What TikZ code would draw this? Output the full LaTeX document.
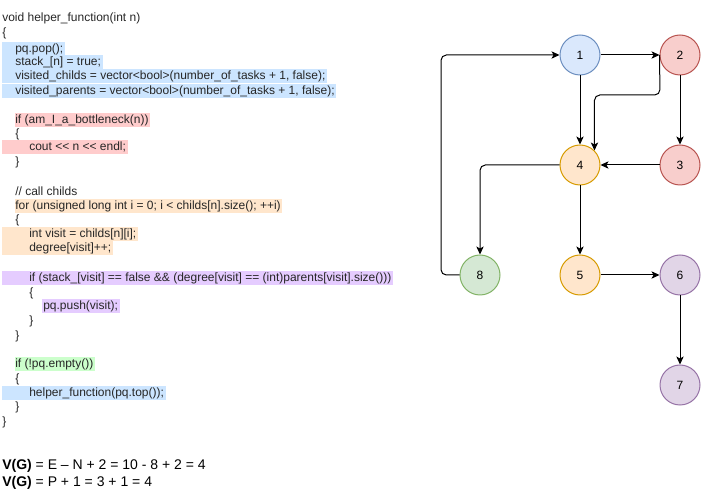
\documentclass[tikz,border=0pt]{standalone}
\usepackage{fontspec}
\setmainfont{Liberation Sans}
\usetikzlibrary{arrows.meta,backgrounds}
\definecolor{hblue}{HTML}{CCE5FF}
\definecolor{hred}{HTML}{FFCCCC}
\definecolor{horange}{HTML}{FFE6CC}
\definecolor{hpurple}{HTML}{E5CCFF}
\definecolor{hgreen}{HTML}{CCFFCC}
\definecolor{nbluef}{HTML}{DAE8FC}\definecolor{nblued}{HTML}{6C8EBF}
\definecolor{nredf}{HTML}{F8CECC}\definecolor{nredd}{HTML}{B85450}
\definecolor{norangef}{HTML}{FFE6CC}\definecolor{noranged}{HTML}{D79B00}
\definecolor{npurplef}{HTML}{E1D5E7}\definecolor{npurpled}{HTML}{9673A6}
\definecolor{ngreenf}{HTML}{D5E8D4}\definecolor{ngreend}{HTML}{82B366}
\tikzset{
  code/.style={anchor=mid west,inner sep=0pt,font=\fontsize{9pt}{10pt}\selectfont,text=black!85},
  vg/.style={anchor=mid west,inner sep=0pt,font=\fontsize{10.5pt}{12pt}\selectfont},
  gnode/.style={circle,draw,line width=0.75pt,minimum size=30pt,inner sep=0pt,font=\fontsize{9pt}{10pt}\selectfont},
  bluen/.style={gnode,fill=nbluef,draw=nblued},
  redn/.style={gnode,fill=nredf,draw=nredd},
  orangen/.style={gnode,fill=norangef,draw=noranged},
  purplen/.style={gnode,fill=npurplef,draw=npurpled},
  greenn/.style={gnode,fill=ngreenf,draw=ngreend},
  arr/.style={line width=0.75pt,-{Stealth[length=6pt,width=5.5pt,inset=1.5pt]},rounded corners=4pt},
}
\begin{document}
\begin{tikzpicture}[x=0.75pt,y=-0.75pt]
\useasboundingbox (0,0) rectangle (701,502);
% code text
\node[code] (c1) at (2,18) {void helper\_function(int n)};
\node[code] (c2) at (2,33) {\{};
\node[code] (c3) at (15,49) {pq.pop();};
\node[code] (c4) at (15,62) {stack\_[n] = true;};
\node[code] (c5) at (15,76) {visited\_childs = vector<bool>(number\_of\_tasks + 1, false);};
\node[code] (c6) at (15,91) {visited\_parents = vector<bool>(number\_of\_tasks + 1, false);};
\node[code] (c7) at (15,120) {if (am\_I\_a\_bottleneck(n))};
\node[code] (c8) at (15,134) {\{};
\node[code] (c9) at (29,147) {cout <{}< n <{}< endl;};
\node[code] (c10) at (15,162) {\}};
\node[code] (c11) at (15,192) {// call childs};
\node[code] (c12) at (15,206) {for (unsigned long int i = 0; i < childs[n].size(); ++i)};
\node[code] (c13) at (15,220) {\{};
\node[code] (c14) at (29,234) {int visit = childs[n][i];};
\node[code] (c15) at (29,248) {degree[visit]++;};
\node[code] (c16) at (29,278) {if (stack\_[visit] == false \&\& (degree[visit] == (int)parents[visit].size()))};
\node[code] (c17) at (29,293) {\{};
\node[code] (c18) at (43,306) {pq.push(visit);};
\node[code] (c19) at (29,321) {\}};
\node[code] (c20) at (15,336) {\}};
\node[code] (c21) at (15,364) {if (!pq.empty())};
\node[code] (c22) at (15,379) {\{};
\node[code] (c23) at (29,393) {helper\_function(pq.top());};
\node[code] (c24) at (15,407) {\}};
\node[code] (c25) at (2,422) {\}};
\node[vg] (v1) at (2,466) {\textbf{V(G)} = E – N + 2 = 10 - 8 + 2 = 4};
\node[vg] (v2) at (2,483) {\textbf{V(G)} = P + 1 = 3 + 1 = 4};
% highlights
\begin{scope}[on background layer]
\fill[hblue] (2,42) rectangle ([xshift=1pt]c3.east |- 0,55.5);
\fill[hblue] (2,55.5) rectangle ([xshift=1pt]c4.east |- 0,69);
\fill[hblue] (2,69) rectangle ([xshift=1pt]c5.east |- 0,83);
\fill[hblue] (2,84) rectangle ([xshift=1pt]c6.east |- 0,98);
\fill[hred] (15,113) rectangle ([xshift=1pt]c7.east |- 0,127);
\fill[hred] (2,140.5) rectangle ([xshift=1pt]c9.east |- 0,154.5);
\fill[horange] (15,199) rectangle ([xshift=1pt]c12.east |- 0,213);
\fill[horange] (2,227) rectangle ([xshift=1pt]c14.east |- 0,241);
\fill[horange] (2,241) rectangle ([xshift=1pt]c15.east |- 0,255.5);
\fill[hpurple] (2,271) rectangle ([xshift=1pt]c16.east |- 0,285);
\fill[hpurple] (42,299) rectangle ([xshift=1pt]c18.east |- 0,313);
\fill[hgreen] (15,357) rectangle ([xshift=1pt]c21.east |- 0,371);
\fill[hblue] (2,386) rectangle ([xshift=1pt]c23.east |- 0,400);
\end{scope}
% graph
\node[bluen] (n1) at (580,55) {1};
\node[redn] (n2) at (680,55) {2};
\node[redn] (n3) at (680,165) {3};
\node[orangen] (n4) at (580,165) {4};
\node[orangen] (n5) at (580,275) {5};
\node[purplen] (n6) at (680,275) {6};
\node[purplen] (n7) at (680,385) {7};
\node[greenn] (n8) at (480,275) {8};
\coordinate (b2) at (660,95);
\coordinate (b8) at (441,275);
\draw[arr] (n1) -- (n2);
\draw[arr] (n1) -- (n4);
\draw[arr] (n2) -- (n3);
\draw[arr] (n3) -- (n4);
\draw[arr] (n4) -- (n5);
\draw[arr] (n5) -- (n6);
\draw[arr] (n6) -- (n7);
\draw[arr] (n2.west) -- (b2) -| (n4.45);
\draw[arr] (n4.west) -| (n8.north);
\draw[arr] (n8.west) -- (b8) |- (n1.west);
\end{tikzpicture}
\end{document}
